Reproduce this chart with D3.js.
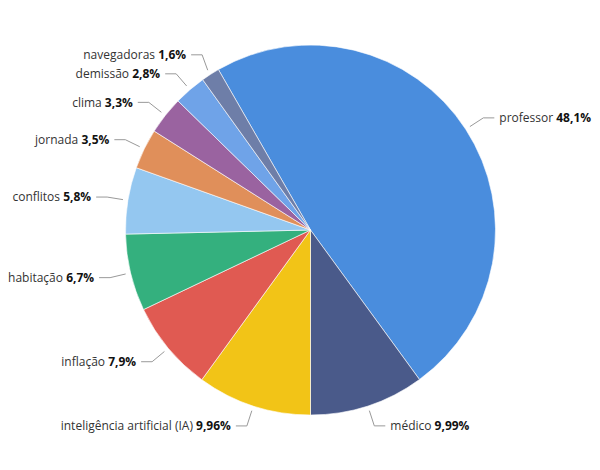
<!DOCTYPE html>
<html>
<head>
<meta charset="utf-8">
<script src="https://cdn.jsdelivr.net/npm/d3@7"></script>
<style>
  html, body { margin: 0; padding: 0; background: #ffffff; }
  svg { display: block; }
  text { font-family: "Open Sans", "Noto Sans", sans-serif; font-size: 12px; }
</style>
</head>
<body>
<svg id="chart" width="600" height="470"></svg>
<script>
const categories = ["professor", "médico", "inteligência artificial (IA)", "inflação", "habitação",
  "conflitos", "jornada", "clima", "demissão", "navegadoras"];
const values = [48.1, 9.99, 9.96, 7.9, 6.7, 5.8, 3.5, 3.3, 2.8, 1.6];
const colors = ["#4a8ddd", "#4a5a8a", "#f2c417", "#e05a52", "#34b07e",
  "#94c7f0", "#e08f5a", "#9a63a0", "#6fa3e8", "#6e7ea8"];

const W = 600, H = 470;
const cx = 310.5, cy = 230, r = 185;
const R = 206;

const svg = d3.select("#chart");
const total = d3.sum(values);
// professor + médico end at the bottom (6 o'clock)
const startAngle = Math.PI - (values[0] + values[1]) / total * 2 * Math.PI;

const pie = d3.pie().sort(null).value(d => d.v)
  .startAngle(startAngle).endAngle(startAngle + 2 * Math.PI);
const data = categories.map((c, i) => ({ c, v: values[i], color: colors[i] }));
const arcs = pie(data);
const arc = d3.arc().innerRadius(0).outerRadius(r);

const g = svg.append("g").attr("transform", `translate(${cx},${cy})`);
g.selectAll("path.slice").data(arcs).enter().append("path")
  .attr("class", "slice")
  .attr("d", arc)
  .attr("fill", d => d.data.color)
  .attr("stroke", "#ffffff")
  .attr("stroke-width", 0.6);

// label layout
const labels = arcs.map(a => {
  const mid = (a.startAngle + a.endAngle) / 2;
  return {
    a, mid,
    right: Math.sin(mid) >= 0,
    y: -R * Math.cos(mid)
  };
});
// resolve overlaps on each side, pushing upward
const minGap = 19;
["left", "right"].forEach(side => {
  const s = labels.filter(l => (side === "right") === l.right).sort((p, q) => q.y - p.y);
  for (let i = 1; i < s.length; i++) {
    if (s[i - 1].y - s[i].y < minGap) s[i].y = s[i - 1].y - minGap;
  }
});
labels.forEach(l => {
  const dy = Math.max(-R, Math.min(R, l.y));
  const ex = Math.sqrt(Math.max(0, R * R - dy * dy)) * (l.right ? 1 : -1);
  l.ex = ex;
  l.hx = ex + (l.right ? 11 : -11);
  l.tx = l.hx + (l.right ? 5 : -5);
  l.px = (r + 5) * Math.sin(l.mid);
  l.py = -(r + 5) * Math.cos(l.mid);
});

const fmt = v => String(v).replace(".", ",") + "%";

g.selectAll("path.conn").data(labels).enter().append("path")
  .attr("class", "conn")
  .attr("d", l => `M${l.px},${l.py}L${l.ex},${l.y}L${l.hx},${l.y}`)
  .attr("fill", "none")
  .attr("stroke", "#999999")
  .attr("stroke-width", 1);

const t = g.selectAll("text.lbl").data(labels).enter().append("text")
  .attr("class", "lbl")
  .attr("x", l => l.tx)
  .attr("y", l => l.y)
  .attr("dy", "0.35em")
  .attr("text-anchor", l => l.right ? "start" : "end");
t.append("tspan").attr("fill", "#333333").text(l => l.a.data.c + " ");
t.append("tspan").attr("fill", "#111111").attr("font-weight", "bold").text(l => fmt(l.a.data.v));
</script>
</body>
</html>
